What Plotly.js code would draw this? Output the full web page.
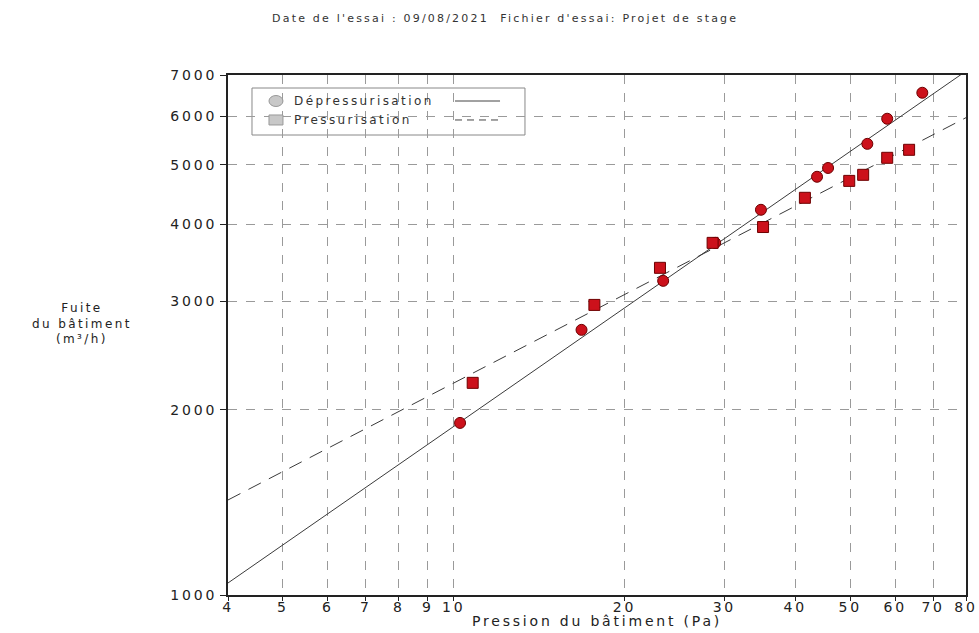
<!DOCTYPE html>
<html>
<head>
<meta charset="utf-8">
<script src="https://cdn.plot.ly/plotly-3.0.1.min.js"></script>
<style>
html,body{margin:0;padding:0;background:#fff;}
#chart{width:979px;height:633px;}
text{letter-spacing:0.2em;}
</style>
</head>
<body>
<div id="chart"></div>
<script>
// Dépressurisation measurements (Pa, m³/h)
const depX = [10.26, 16.8, 23.4, 28.9, 34.8, 43.7, 45.7, 53.6, 58.1, 67.0];
const depY = [1904, 2697, 3240, 3735, 4227, 4783, 4943, 5410, 5943, 6550];
// Pressurisation measurements
const preX = [10.8, 17.7, 23.1, 28.6, 35.1, 41.6, 49.8, 52.7, 58.1, 63.5];
const preY = [2212, 2961, 3402, 3735, 3963, 4421, 4710, 4818, 5135, 5291];
// Fit lines (end points)
const depFitX = [4, 80];
const depFitY = [1046, 7103];
const preFitX = [4, 80];
const preFitY = [1427, 5967];
// Tick labels
const xTicks = [4, 5, 6, 7, 8, 9, 10, 20, 30, 40, 50, 60, 70, 80];
const yTicks = [1000, 2000, 3000, 4000, 5000, 6000, 7000];

const FONT = "DejaVu Sans, Verdana, sans-serif";
const markerRed = '#cc111b';
const markerEdge = '#6e0000';

const traces = [
  {x: depFitX, y: depFitY, mode: 'lines', line: {color: '#3a3a3a', width: 1}, hoverinfo: 'skip', showlegend: false},
  {x: preFitX, y: preFitY, mode: 'lines', line: {color: '#3a3a3a', width: 1, dash: '14px,9px'}, hoverinfo: 'skip', showlegend: false},
  {x: depX, y: depY, mode: 'markers', name: 'Dépressurisation',
   marker: {symbol: 'circle', size: 11, color: markerRed, line: {color: markerEdge, width: 1}}, cliponaxis: false},
  {x: preX, y: preY, mode: 'markers', name: 'Pressurisation',
   marker: {symbol: 'square', size: 11, color: markerRed, line: {color: markerEdge, width: 1}}, cliponaxis: false}
];

// legend geometry (paper coords)
const L = {x0: 0.0325, x1: 0.4024, y0: 0.8846, y1: 0.975};
const row1 = 0.950, row2 = 0.9135;
const symX = 0.065;

const layout = {
  width: 979, height: 633,
  margin: {l: 228, r: 13, t: 75, b: 38},
  paper_bgcolor: '#fff', plot_bgcolor: '#fff',
  showlegend: false,
  font: {family: FONT, color: '#222', size: 14},
  title: {text: "Date de l'essai : 09/08/2021  Fichier d'essai: Projet de stage",
          font: {family: FONT, size: 11, color: '#333'}, x: 0.516, xanchor: 'center', y: 0.9716, yanchor: 'middle'},
  xaxis: {
    type: 'log', range: [Math.log10(4), Math.log10(80)],
    tickvals: xTicks, ticktext: xTicks.map(String),
    ticks: 'outside', ticklen: 4, tickcolor: '#222', tickwidth: 1, ticklabelstandoff: -6,
    showline: true, linecolor: '#222', linewidth: 2, mirror: true,
    showgrid: true, gridcolor: '#9a9a9a', griddash: 'dash', gridwidth: 1,
    zeroline: false, tickfont: {family: FONT, size: 14, color: '#222'}
  },
  yaxis: {
    type: 'log', range: [3, Math.log10(7000)],
    tickvals: yTicks, ticktext: yTicks.map(String),
    ticks: 'outside', ticklen: 6, tickcolor: '#222', tickwidth: 1,
    showline: true, linecolor: '#222', linewidth: 2, mirror: true,
    showgrid: true, gridcolor: '#9a9a9a', griddash: 'dash', gridwidth: 1,
    zeroline: false, tickfont: {family: FONT, size: 14, color: '#222'}
  },
  annotations: [
    {xref: 'paper', yref: 'paper', x: 0.5, y: -0.05, xanchor: 'center', yanchor: 'middle',
     text: 'Pression du bâtiment (Pa)', showarrow: false,
     font: {family: FONT, size: 14, color: '#222'}},
    {xref: 'paper', yref: 'paper', x: -0.198, y: 0.523, xanchor: 'center', yanchor: 'middle',
     text: 'Fuite<br>du bâtiment<br>(m³/h)', showarrow: false, align: 'center',
     font: {family: FONT, size: 12, color: '#222'}},
    {xref: 'paper', yref: 'paper', x: 0.0867, y: row1, xanchor: 'left', yanchor: 'middle',
     text: 'Dépressurisation', showarrow: false, font: {family: FONT, size: 12, color: '#333'}},
    {xref: 'paper', yref: 'paper', x: 0.0867, y: row2, xanchor: 'left', yanchor: 'middle',
     text: 'Pressurisation', showarrow: false, font: {family: FONT, size: 12, color: '#333'}}
  ],
  shapes: [
    {type: 'rect', xref: 'paper', yref: 'paper', x0: L.x0, x1: L.x1, y0: L.y0, y1: L.y1,
     line: {color: '#888', width: 1}, fillcolor: '#fff', layer: 'below'},
    {type: 'circle', xref: 'paper', yref: 'paper', xsizemode: 'pixel', ysizemode: 'pixel',
     xanchor: symX, yanchor: row1, x0: -7, x1: 7, y0: -5.5, y1: 5.5,
     line: {color: '#999', width: 1}, fillcolor: '#c8c8c8'},
    {type: 'rect', xref: 'paper', yref: 'paper', xsizemode: 'pixel', ysizemode: 'pixel',
     xanchor: symX, yanchor: row2, x0: -7, x1: 7, y0: -5, y1: 5,
     line: {color: '#999', width: 1}, fillcolor: '#c8c8c8'},
    {type: 'line', xref: 'paper', yref: 'paper', x0: 0.3076, x1: 0.3686, y0: row1, y1: row1,
     line: {color: '#444', width: 1}},
    {type: 'line', xref: 'paper', yref: 'paper', x0: 0.3076, x1: 0.3686, y0: row2, y1: row2,
     line: {color: '#444', width: 1, dash: '7px,5px'}}
  ]
};

Plotly.newPlot('chart', traces, layout, {displayModeBar: false, staticPlot: true});
</script>
</body>
</html>
